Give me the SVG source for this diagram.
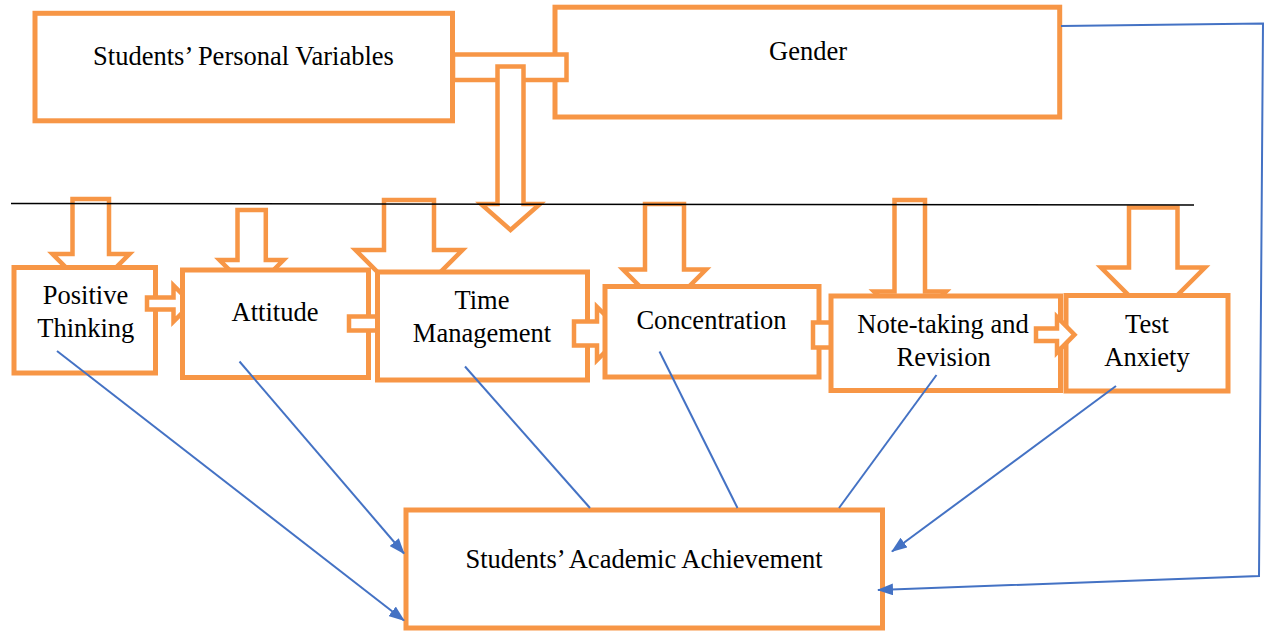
<svg xmlns="http://www.w3.org/2000/svg" width="1265" height="631" viewBox="0 0 1265 631">
<style>
.box{fill:#fff;stroke:#F79646;stroke-width:5}
.blk{fill:#fff;stroke:#F79646;stroke-width:4.5;stroke-linejoin:miter}
.t{font-family:"Liberation Serif","Times New Roman",serif;font-size:26.5px;fill:#000;text-anchor:middle}
.ln{fill:none;stroke:#4472C4;stroke-width:2}
</style>
<defs>
<marker id="ah" viewBox="0 0 16 12" refX="15" refY="6" markerWidth="16" markerHeight="12" orient="auto" markerUnits="userSpaceOnUse">
<path d="M0,0 L16,6 L0,12 z" fill="#4472C4"/>
</marker>
</defs>
<rect width="1265" height="631" fill="#fff"/>

<g id="top-nodes">
<g id="personal-variables">
<rect class="box" x="35" y="13.3" width="417.5" height="107.5"/>
<text class="t" x="243.5" y="65">Students’ Personal Variables</text>
</g>
<g id="gender">
<rect class="box" x="555" y="7.2" width="504.7" height="109.8"/>
<text class="t" x="808" y="60">Gender</text>
</g>
</g>

<g id="block-arrows">
<rect id="bar" class="blk" x="453" y="54.5" width="113.5" height="25.5"/>
<polygon id="main-down" class="blk" points="497.5,66.5 523.5,66.5 523.5,204 540,204 510.5,230 481,204 497.5,204"/>
<polygon class="blk" points="72.5,199 109,199 109,254 129.5,254 91,292.5 52.5,254 72.5,254"/>
<polygon class="blk" points="237.5,210 265.8,210 265.8,260 283.5,260 251.6,292 219.5,260 237.5,260"/>
<polygon class="blk" points="384,200 434,200 434,250 462.5,250 409,303.5 355.5,250 384,250"/>
<polygon class="blk" points="645,204 684,204 684,269.5 706,269.5 664.5,311 623,269.5 645,269.5"/>
<polygon class="blk" points="894.5,200 925,200 925,291.5 946,291.5 910,327 874,291.5 894.5,291.5"/>
<polygon class="blk" points="1129,207.5 1177.5,207.5 1177.5,267.5 1205,267.5 1153,319.5 1101,267.5 1129,267.5"/>
</g>

<g id="positive-thinking">
<rect class="box" x="14" y="267.5" width="141.5" height="105.5"/>
<text class="t" x="85.5" y="304">Positive</text>
<text class="t" x="85.8" y="337">Thinking</text>
</g>
<polygon class="blk" points="147,297.5 173.5,297.5 173.5,285.5 191.5,303.5 173.5,321.5 173.5,309.5 147,309.5"/>

<g id="attitude">
<rect class="box" x="182.5" y="270" width="186" height="107.5"/>
<text class="t" x="275" y="320.5">Attitude</text>
</g>
<polygon class="blk" points="349,316.5 385,316.5 385,306 402,323.5 385,341 385,330.5 349,330.5"/>

<g id="time-management">
<rect class="box" x="377.5" y="272" width="210" height="108"/>
<text class="t" x="482" y="309">Time</text>
<text class="t" x="482" y="341.5">Management</text>
</g>
<polygon class="blk" points="574,321.5 597,321.5 597,307 623.5,333.5 597,360 597,345.5 574,345.5"/>

<g id="concentration">
<rect class="box" x="605" y="286.5" width="214" height="90.5"/>
<text class="t" x="711.5" y="329.3">Concentration</text>
</g>
<polygon class="blk" points="813,322.5 845,322.5 845,312 868,335 845,358 845,347.5 813,347.5"/>

<g id="note-taking">
<rect class="box" x="831" y="296" width="229.5" height="94.5"/>
<text class="t" x="943" y="332.7">Note-taking and</text>
<text class="t" x="943.6" y="366">Revision</text>
</g>

<g id="test-anxiety">
<rect class="box" x="1066" y="295.5" width="162" height="95.5"/>
<text class="t" x="1147" y="332.7">Test</text>
<text class="t" x="1147" y="366">Anxiety</text>
</g>
<polygon class="blk" points="1036,328.5 1057,328.5 1057,317 1074.5,334.7 1057,352.4 1057,341 1036,341"/>

<line x1="11" y1="203.5" x2="1194" y2="205" stroke="#000" stroke-width="1.5"/>

<g id="academic-achievement">
<rect class="box" x="406" y="510" width="476.5" height="118"/>
<text class="t" x="644" y="568.3">Students’ Academic Achievement</text>
</g>

<g id="connectors">
<line class="ln" x1="57" y1="351" x2="404" y2="620.5" marker-end="url(#ah)"/>
<line class="ln" x1="239.5" y1="361.5" x2="404" y2="553.5" marker-end="url(#ah)"/>
<line class="ln" x1="465" y1="366.5" x2="590" y2="508"/>
<line class="ln" x1="659.5" y1="351.5" x2="737.5" y2="508"/>
<line class="ln" x1="936.5" y1="375" x2="839" y2="508"/>
<line class="ln" x1="1116" y1="386" x2="892" y2="551.5" marker-end="url(#ah)"/>
<polyline class="ln" points="1061,26 1263,23.5 1259,576 878,590" marker-end="url(#ah)"/>
</g>
</svg>
